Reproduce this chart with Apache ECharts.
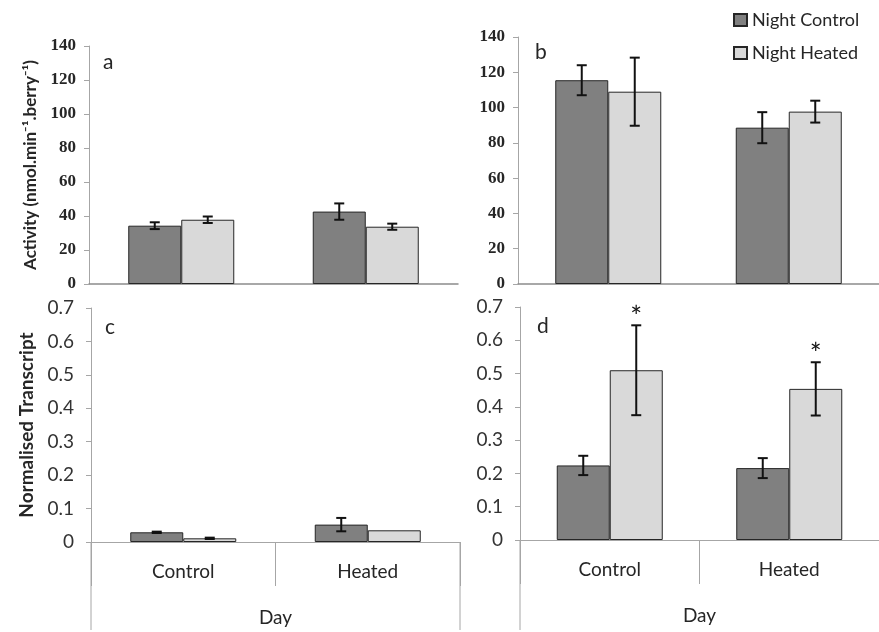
<!DOCTYPE html>
<html>
<head>
<meta charset="utf-8">
<script src="https://cdn.jsdelivr.net/npm/echarts@6/dist/echarts.min.js"></script>
<style>
  html, body { margin: 0; padding: 0; background: #fff; }
  #chart { width: 879px; height: 632px; }
</style>
</head>
<body>
<div id="chart"></div>
<script>
// Day treatment groups on the category axes
const categories = ['Control', 'Heated'];
const seriesNames = ['Night Control', 'Night Heated'];

// Panel a: activity, means and standard errors
const actA_control = [34.3, 42.6];
const actA_controlErr = [2.0, 4.8];
const actA_heated = [37.8, 33.7];
const actA_heatedErr = [1.9, 1.8];

// Panel b: activity, means and standard errors
const actB_control = [115.5, 88.6];
const actB_controlErr = [8.5, 8.8];
const actB_heated = [109.0, 97.7];
const actB_heatedErr = [19.3, 6.2];

// Panel c: normalised transcript, means and standard errors
const trC_control = [0.029, 0.052];
const trC_controlErr = [0.002, 0.020];
const trC_heated = [0.011, 0.035];
const trC_heatedErr = [0.002, 0.0];

// Panel d: normalised transcript, means and standard errors
const trD_control = [0.224, 0.216];
const trD_controlErr = [0.029, 0.030];
const trD_heated = [0.510, 0.454];
const trD_heatedErr = [0.135, 0.080];

// Significance flags (drawn as asterisks above the error bar)
const sigD_heated = [true, true];

// Axis ticks
const activityTicks = { min: 0, max: 140, interval: 20 };
const transcriptTicks = { min: 0, max: 0.7, interval: 0.1 };

const DARK = '#808080';
const LIGHT = '#d9d9d9';
const EDGE = '#262626';
const AXIS = '#a6a6a6';
const FONT = 'Lato, "Open Sans", sans-serif';
const BAR_W = 53;

const grids = [
  { left: 89, right: 421, top: 46, bottom: 348 },
  { left: 518, right: -11, top: 37, bottom: 348 },
  { left: 91, right: 419, top: 308, bottom: 90 },
  { left: 520, right: -11, top: 307, bottom: 92 }
];

function xAxisFor(i, lower) {
  const base = {
    type: 'category', gridIndex: i, data: categories,
    axisLine: { lineStyle: { color: lower ? AXIS : '#8c8c8c', width: lower ? 1 : 1.5 } },
    splitLine: { show: false }
  };
  if (lower) {
    Object.assign(base, {
      axisTick: { show: true, interval: 0, length: 44, lineStyle: { color: AXIS } },
      axisLabel: { interval: 0, margin: 20, fontFamily: FONT, fontSize: 19, color: '#262626' },
      name: 'Day', nameLocation: 'middle', nameGap: 66,
      nameTextStyle: { fontFamily: FONT, fontSize: 19, color: '#262626' }
    });
  } else {
    Object.assign(base, { axisTick: { show: false }, axisLabel: { show: false } });
  }
  return base;
}

function yAxisFor(i, ticks, lower, title, gap, titleSize) {
  return {
    type: 'value', gridIndex: i, min: ticks.min, max: ticks.max, interval: ticks.interval,
    splitLine: { show: false },
    axisLine: { show: true, lineStyle: { color: AXIS } },
    axisTick: { show: true, length: 5, lineStyle: { color: AXIS } },
    axisLabel: lower
      ? { fontFamily: FONT, fontSize: 19, color: '#333', margin: 17 }
      : { fontFamily: '"Liberation Serif", serif', fontWeight: 'bold', fontSize: 17, color: '#262626', margin: 13 },
    name: title || '', nameLocation: 'middle', nameRotate: 90, nameGap: gap || 0,
    nameTextStyle: { fontFamily: FONT, fontWeight: 'bold', fontSize: titleSize || 16, color: '#262626' }
  };
}

function barSeries(i, name, values, color) {
  return {
    type: 'bar', name: name, xAxisIndex: i, yAxisIndex: i, data: values,
    barWidth: BAR_W, barGap: '0%',
    itemStyle: { color: color, borderColor: EDGE, borderWidth: 1 },
    emphasis: { disabled: true }, animation: false
  };
}

// Error bars (and optional asterisks) centred on each bar of a pair
function errorSeries(i, means, errs, side, sig) {
  const data = means.map((m, k) => [k, m - errs[k], m + errs[k], sig && sig[k] ? 1 : 0]);
  return {
    type: 'custom', xAxisIndex: i, yAxisIndex: i, data: data, z: 5, animation: false,
    silent: true,
    renderItem: function (params, api) {
      const lo = api.coord([api.value(0), api.value(1)]);
      const hi = api.coord([api.value(0), api.value(2)]);
      const x = lo[0] + side * BAR_W / 2;
      const cap = 5;
      const st = { stroke: '#111', lineWidth: 2 };
      const children = [];
      if (Math.abs(hi[1] - lo[1]) > 0.5) {
        children.push(
          { type: 'line', shape: { x1: x, y1: lo[1], x2: x, y2: hi[1] }, style: st },
          { type: 'line', shape: { x1: x - cap, y1: lo[1], x2: x + cap, y2: lo[1] }, style: st },
          { type: 'line', shape: { x1: x - cap, y1: hi[1], x2: x + cap, y2: hi[1] }, style: st }
        );
      }
      if (api.value(3)) {
        children.push({
          type: 'text',
          style: { text: '*', x: x, y: hi[1] - 7, align: 'center', verticalAlign: 'middle',
                   font: '28px ' + FONT, fill: '#111' }
        });
      }
      return { type: 'group', children: children };
    }
  };
}

const chart = echarts.init(document.getElementById('chart'), null, { renderer: 'canvas' });

const option = {
  backgroundColor: '#fff',
  animation: false,
  grid: grids,
  legend: {
    data: seriesNames, orient: 'vertical', left: 728, top: 6, itemGap: 15,
    itemWidth: 13, itemHeight: 12, icon: 'rect',
    textStyle: { fontFamily: FONT, fontSize: 18, color: '#262626' },
    selectedMode: false
  },
  xAxis: [xAxisFor(0, false), xAxisFor(1, false), xAxisFor(2, true), xAxisFor(3, true)],
  yAxis: [
    yAxisFor(0, activityTicks, false, 'Activity (nmol.min\u207B\u00B9.berry\u207B\u00B9)', 50, 17),
    yAxisFor(1, activityTicks, false),
    yAxisFor(2, transcriptTicks, true, 'Normalised Transcript', 55, 19),
    yAxisFor(3, transcriptTicks, true)
  ],
  series: [
    barSeries(0, seriesNames[0], actA_control, DARK),
    barSeries(0, seriesNames[1], actA_heated, LIGHT),
    errorSeries(0, actA_control, actA_controlErr, -1),
    errorSeries(0, actA_heated, actA_heatedErr, 1),

    barSeries(1, seriesNames[0], actB_control, DARK),
    barSeries(1, seriesNames[1], actB_heated, LIGHT),
    errorSeries(1, actB_control, actB_controlErr, -1),
    errorSeries(1, actB_heated, actB_heatedErr, 1),

    barSeries(2, seriesNames[0], trC_control, DARK),
    barSeries(2, seriesNames[1], trC_heated, LIGHT),
    errorSeries(2, trC_control, trC_controlErr, -1),
    errorSeries(2, trC_heated, trC_heatedErr, 1),

    barSeries(3, seriesNames[0], trD_control, DARK),
    barSeries(3, seriesNames[1], trD_heated, LIGHT),
    errorSeries(3, trD_control, trD_controlErr, -1),
    errorSeries(3, trD_heated, trD_heatedErr, 1, sigD_heated)
  ]
};

chart.setOption(option);

// Panel letters and the outer borders of the two-level category axes
const W = 879, H = 632;
const letterStyle = { font: '21px ' + FONT, fill: '#262626' };
const panelLetters = ['a', 'b', 'c', 'd'];
const letterOffsets = [[14, 17], [17, 16], [14, 20], [17, 20]];
const graphics = panelLetters.map((t, i) => ({
  type: 'text', left: grids[i].left + letterOffsets[i][0], top: grids[i].top + letterOffsets[i][1] - 11,
  style: Object.assign({ text: t }, letterStyle), silent: true
}));
const lowerBorderBottom = 630;
[2, 3].forEach(i => {
  const g = grids[i];
  const y0 = H - g.bottom;
  [g.left, W - g.right].forEach(x => {
    if (x < W) {
      graphics.push({ type: 'line', shape: { x1: x, y1: y0, x2: x, y2: lowerBorderBottom },
                      style: { stroke: AXIS, lineWidth: 1 }, silent: true });
    }
  });
});
chart.setOption({ graphic: graphics });
</script>
</body>
</html>
